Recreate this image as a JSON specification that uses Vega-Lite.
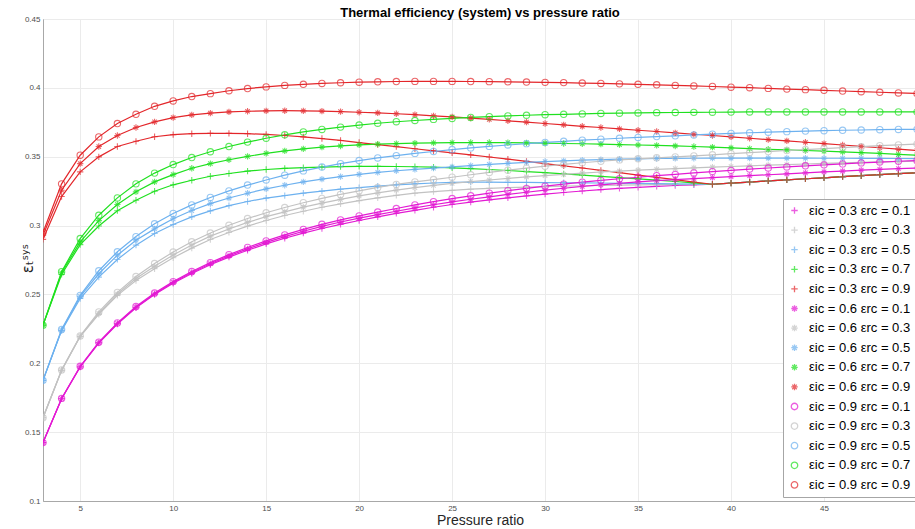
{
"$schema": "https://vega.github.io/schema/vega-lite/v6.json",
"autosize": "none",
"padding": {"left": 43, "top": 19, "right": 0, "bottom": 28},
"width": 874,
"height": 482,
"background": "white",
"title": {"text": "Thermal efficiency (system) vs pressure ratio", "font": "Liberation Sans", "fontSize": 13, "fontWeight": "bold", "color": "#000000", "anchor": "middle", "offset": -5},
"data": {"values": [
{"p":3,"i3r1":0.1424,"i3r3":0.1605,"i3r5":0.1876,"i3r7":0.2277,"i3r9":0.2900,"i6r1":0.1424,"i6r3":0.1605,"i6r5":0.1876,"i6r7":0.2277,"i6r9":0.2930,"i9r1":0.1424,"i9r3":0.1605,"i9r5":0.1876,"i9r7":0.2277,"i9r9":0.2950},
{"p":4,"i3r1":0.1742,"i3r3":0.1948,"i3r5":0.2237,"i3r7":0.2645,"i3r9":0.3211,"i6r1":0.1743,"i6r3":0.1950,"i6r5":0.2241,"i6r7":0.2657,"i6r9":0.3257,"i9r1":0.1745,"i9r3":0.1952,"i9r5":0.2245,"i9r7":0.2665,"i9r9":0.3303},
{"p":5,"i3r1":0.1973,"i3r3":0.2195,"i3r5":0.2470,"i3r7":0.2862,"i3r9":0.3390,"i6r1":0.1975,"i6r3":0.2196,"i6r5":0.2485,"i6r7":0.2882,"i6r9":0.3450,"i9r1":0.1978,"i9r3":0.2199,"i9r5":0.2493,"i9r7":0.2906,"i9r9":0.3511},
{"p":6,"i3r1":0.2147,"i3r3":0.2355,"i3r5":0.2626,"i3r7":0.2997,"i3r9":0.3499,"i6r1":0.2150,"i6r3":0.2363,"i6r5":0.2650,"i6r7":0.3036,"i6r9":0.3574,"i9r1":0.2153,"i9r3":0.2373,"i9r5":0.2672,"i9r7":0.3075,"i9r9":0.3644},
{"p":7,"i3r1":0.2285,"i3r3":0.2493,"i3r5":0.2754,"i3r7":0.3108,"i3r9":0.3574,"i6r1":0.2289,"i6r3":0.2503,"i6r5":0.2785,"i6r7":0.3153,"i6r9":0.3654,"i9r1":0.2293,"i9r3":0.2515,"i9r5":0.2810,"i9r7":0.3201,"i9r9":0.3741},
{"p":8,"i3r1":0.2403,"i3r3":0.2601,"i3r5":0.2858,"i3r7":0.3184,"i3r9":0.3612,"i6r1":0.2407,"i6r3":0.2615,"i6r5":0.2894,"i6r7":0.3245,"i6r9":0.3712,"i9r1":0.2412,"i9r3":0.2630,"i9r5":0.2920,"i9r7":0.3303,"i9r9":0.3808},
{"p":9,"i3r1":0.2499,"i3r3":0.2686,"i3r5":0.2942,"i3r7":0.3249,"i3r9":0.3645,"i6r1":0.2504,"i6r3":0.2704,"i6r5":0.2976,"i6r7":0.3317,"i6r9":0.3753,"i9r1":0.2510,"i9r3":0.2724,"i9r5":0.3013,"i9r7":0.3381,"i9r9":0.3866},
{"p":10,"i3r1":0.2581,"i3r3":0.2766,"i3r5":0.3008,"i3r7":0.3296,"i3r9":0.3660,"i6r1":0.2587,"i6r3":0.2787,"i6r5":0.3049,"i6r7":0.3370,"i6r9":0.3784,"i9r1":0.2593,"i9r3":0.2808,"i9r5":0.3088,"i9r7":0.3443,"i9r9":0.3905},
{"p":11,"i3r1":0.2652,"i3r3":0.2836,"i3r5":0.3063,"i3r7":0.3329,"i3r9":0.3667,"i6r1":0.2659,"i6r3":0.2859,"i6r5":0.3109,"i6r7":0.3416,"i6r9":0.3804,"i9r1":0.2666,"i9r3":0.2882,"i9r5":0.3150,"i9r7":0.3494,"i9r9":0.3937},
{"p":12,"i3r1":0.2715,"i3r3":0.2899,"i3r5":0.3107,"i3r7":0.3358,"i3r9":0.3670,"i6r1":0.2723,"i6r3":0.2923,"i6r5":0.3159,"i6r7":0.3450,"i6r9":0.3817,"i9r1":0.2731,"i9r3":0.2946,"i9r5":0.3204,"i9r7":0.3536,"i9r9":0.3958},
{"p":13,"i3r1":0.2771,"i3r3":0.2950,"i3r5":0.3145,"i3r7":0.3378,"i3r9":0.3670,"i6r1":0.2780,"i6r3":0.2975,"i6r5":0.3200,"i6r7":0.3478,"i6r9":0.3825,"i9r1":0.2789,"i9r3":0.3002,"i9r5":0.3252,"i9r7":0.3574,"i9r9":0.3979},
{"p":14,"i3r1":0.2821,"i3r3":0.2996,"i3r5":0.3175,"i3r7":0.3395,"i3r9":0.3667,"i6r1":0.2831,"i6r3":0.3023,"i6r5":0.3235,"i6r7":0.3503,"i6r9":0.3830,"i9r1":0.2841,"i9r3":0.3051,"i9r5":0.3294,"i9r7":0.3606,"i9r9":0.3995},
{"p":15,"i3r1":0.2867,"i3r3":0.3037,"i3r5":0.3199,"i3r7":0.3407,"i3r9":0.3662,"i6r1":0.2878,"i6r3":0.3065,"i6r5":0.3266,"i6r7":0.3524,"i6r9":0.3833,"i9r1":0.2889,"i9r3":0.3093,"i9r5":0.3331,"i9r7":0.3634,"i9r9":0.4007},
{"p":16,"i3r1":0.2908,"i3r3":0.3073,"i3r5":0.3218,"i3r7":0.3415,"i3r9":0.3654,"i6r1":0.2920,"i6r3":0.3100,"i6r5":0.3293,"i6r7":0.3542,"i6r9":0.3834,"i9r1":0.2932,"i9r3":0.3131,"i9r5":0.3366,"i9r7":0.3659,"i9r9":0.4018},
{"p":17,"i3r1":0.2945,"i3r3":0.3104,"i3r5":0.3235,"i3r7":0.3421,"i3r9":0.3644,"i6r1":0.2959,"i6r3":0.3134,"i6r5":0.3317,"i6r7":0.3557,"i6r9":0.3833,"i9r1":0.2972,"i9r3":0.3166,"i9r5":0.3397,"i9r7":0.3680,"i9r9":0.4026},
{"p":18,"i3r1":0.2979,"i3r3":0.3133,"i3r5":0.3250,"i3r7":0.3425,"i3r9":0.3632,"i6r1":0.2994,"i6r3":0.3163,"i6r5":0.3337,"i6r7":0.3569,"i6r9":0.3831,"i9r1":0.3009,"i9r3":0.3197,"i9r5":0.3425,"i9r7":0.3698,"i9r9":0.4032},
{"p":19,"i3r1":0.3009,"i3r3":0.3158,"i3r5":0.3264,"i3r7":0.3428,"i3r9":0.3618,"i6r1":0.3026,"i6r3":0.3190,"i6r5":0.3356,"i6r7":0.3578,"i6r9":0.3828,"i9r1":0.3041,"i9r3":0.3226,"i9r5":0.3450,"i9r7":0.3715,"i9r9":0.4037},
{"p":20,"i3r1":0.3037,"i3r3":0.3181,"i3r5":0.3276,"i3r7":0.3430,"i3r9":0.3603,"i6r1":0.3054,"i6r3":0.3215,"i6r5":0.3372,"i6r7":0.3586,"i6r9":0.3823,"i9r1":0.3070,"i9r3":0.3252,"i9r5":0.3472,"i9r7":0.3730,"i9r9":0.4041},
{"p":21,"i3r1":0.3063,"i3r3":0.3201,"i3r5":0.3287,"i3r7":0.3430,"i3r9":0.3588,"i6r1":0.3080,"i6r3":0.3237,"i6r5":0.3386,"i6r7":0.3591,"i6r9":0.3818,"i9r1":0.3098,"i9r3":0.3277,"i9r5":0.3491,"i9r7":0.3743,"i9r9":0.4044},
{"p":22,"i3r1":0.3088,"i3r3":0.3219,"i3r5":0.3296,"i3r7":0.3429,"i3r9":0.3573,"i6r1":0.3104,"i6r3":0.3258,"i6r5":0.3398,"i6r7":0.3595,"i6r9":0.3812,"i9r1":0.3124,"i9r3":0.3299,"i9r5":0.3508,"i9r7":0.3754,"i9r9":0.4046},
{"p":23,"i3r1":0.3111,"i3r3":0.3235,"i3r5":0.3303,"i3r7":0.3427,"i3r9":0.3558,"i6r1":0.3128,"i6r3":0.3276,"i6r5":0.3408,"i6r7":0.3598,"i6r9":0.3805,"i9r1":0.3150,"i9r3":0.3317,"i9r5":0.3524,"i9r7":0.3763,"i9r9":0.4047},
{"p":24,"i3r1":0.3133,"i3r3":0.3246,"i3r5":0.3309,"i3r7":0.3424,"i3r9":0.3543,"i6r1":0.3151,"i6r3":0.3292,"i6r5":0.3417,"i6r7":0.3600,"i6r9":0.3797,"i9r1":0.3174,"i9r3":0.3334,"i9r5":0.3538,"i9r7":0.3771,"i9r9":0.4047},
{"p":25,"i3r1":0.3153,"i3r3":0.3256,"i3r5":0.3313,"i3r7":0.3419,"i3r9":0.3528,"i6r1":0.3172,"i6r3":0.3306,"i6r5":0.3426,"i6r7":0.3602,"i6r9":0.3789,"i9r1":0.3196,"i9r3":0.3351,"i9r5":0.3552,"i9r7":0.3778,"i9r9":0.4047},
{"p":26,"i3r1":0.3170,"i3r3":0.3264,"i3r5":0.3315,"i3r7":0.3413,"i3r9":0.3513,"i6r1":0.3191,"i6r3":0.3319,"i6r5":0.3435,"i6r7":0.3603,"i6r9":0.3780,"i9r1":0.3216,"i9r3":0.3369,"i9r5":0.3564,"i9r7":0.3785,"i9r9":0.4046},
{"p":27,"i3r1":0.3186,"i3r3":0.3270,"i3r5":0.3315,"i3r7":0.3407,"i3r9":0.3498,"i6r1":0.3209,"i6r3":0.3331,"i6r5":0.3444,"i6r7":0.3603,"i6r9":0.3771,"i9r1":0.3235,"i9r3":0.3386,"i9r5":0.3575,"i9r7":0.3791,"i9r9":0.4045},
{"p":28,"i3r1":0.3201,"i3r3":0.3275,"i3r5":0.3314,"i3r7":0.3400,"i3r9":0.3482,"i6r1":0.3226,"i6r3":0.3342,"i6r5":0.3452,"i6r7":0.3602,"i6r9":0.3761,"i9r1":0.3253,"i9r3":0.3402,"i9r5":0.3585,"i9r7":0.3796,"i9r9":0.4044},
{"p":29,"i3r1":0.3215,"i3r3":0.3279,"i3r5":0.3313,"i3r7":0.3392,"i3r9":0.3466,"i6r1":0.3242,"i6r3":0.3353,"i6r5":0.3459,"i6r7":0.3600,"i6r9":0.3751,"i9r1":0.3270,"i9r3":0.3417,"i9r5":0.3595,"i9r7":0.3801,"i9r9":0.4042},
{"p":30,"i3r1":0.3228,"i3r3":0.3283,"i3r5":0.3312,"i3r7":0.3384,"i3r9":0.3450,"i6r1":0.3257,"i6r3":0.3363,"i6r5":0.3465,"i6r7":0.3598,"i6r9":0.3741,"i9r1":0.3286,"i9r3":0.3431,"i9r5":0.3604,"i9r7":0.3805,"i9r9":0.4040},
{"p":31,"i3r1":0.3240,"i3r3":0.3286,"i3r5":0.3311,"i3r7":0.3375,"i3r9":0.3434,"i6r1":0.3271,"i6r3":0.3372,"i6r5":0.3470,"i6r7":0.3596,"i6r9":0.3731,"i9r1":0.3301,"i9r3":0.3444,"i9r5":0.3612,"i9r7":0.3808,"i9r9":0.4038},
{"p":32,"i3r1":0.3251,"i3r3":0.3289,"i3r5":0.3310,"i3r7":0.3366,"i3r9":0.3418,"i6r1":0.3284,"i6r3":0.3381,"i6r5":0.3475,"i6r7":0.3594,"i6r9":0.3721,"i9r1":0.3315,"i9r3":0.3456,"i9r5":0.3620,"i9r7":0.3811,"i9r9":0.4035},
{"p":33,"i3r1":0.3261,"i3r3":0.3291,"i3r5":0.3309,"i3r7":0.3357,"i3r9":0.3401,"i6r1":0.3296,"i6r3":0.3389,"i6r5":0.3479,"i6r7":0.3591,"i6r9":0.3712,"i9r1":0.3328,"i9r3":0.3467,"i9r5":0.3627,"i9r7":0.3814,"i9r9":0.4032},
{"p":34,"i3r1":0.3270,"i3r3":0.3293,"i3r5":0.3307,"i3r7":0.3348,"i3r9":0.3384,"i6r1":0.3307,"i6r3":0.3396,"i6r5":0.3482,"i6r7":0.3588,"i6r9":0.3702,"i9r1":0.3340,"i9r3":0.3477,"i9r5":0.3634,"i9r7":0.3816,"i9r9":0.4029},
{"p":35,"i3r1":0.3278,"i3r3":0.3295,"i3r5":0.3306,"i3r7":0.3339,"i3r9":0.3367,"i6r1":0.3317,"i6r3":0.3402,"i6r5":0.3485,"i6r7":0.3585,"i6r9":0.3692,"i9r1":0.3351,"i9r3":0.3485,"i9r5":0.3640,"i9r7":0.3818,"i9r9":0.4026},
{"p":36,"i3r1":0.3285,"i3r3":0.3297,"i3r5":0.3304,"i3r7":0.3330,"i3r9":0.3350,"i6r1":0.3326,"i6r3":0.3408,"i6r5":0.3487,"i6r7":0.3582,"i6r9":0.3683,"i9r1":0.3362,"i9r3":0.3492,"i9r5":0.3646,"i9r7":0.3820,"i9r9":0.4022},
{"p":37,"i3r1":0.3291,"i3r3":0.3298,"i3r5":0.3303,"i3r7":0.3320,"i3r9":0.3333,"i6r1":0.3334,"i6r3":0.3413,"i6r5":0.3488,"i6r7":0.3578,"i6r9":0.3673,"i9r1":0.3372,"i9r3":0.3499,"i9r5":0.3652,"i9r7":0.3821,"i9r9":0.4018},
{"p":38,"i3r1":0.3296,"i3r3":0.3299,"i3r5":0.3301,"i3r7":0.3310,"i3r9":0.3316,"i6r1":0.3341,"i6r3":0.3419,"i6r5":0.3489,"i6r7":0.3574,"i6r9":0.3663,"i9r1":0.3382,"i9r3":0.3506,"i9r5":0.3658,"i9r7":0.3822,"i9r9":0.4014},
{"p":39,"i3r1":0.3300,"i3r3":0.3300,"i3r5":0.3300,"i3r7":0.3300,"i3r9":0.3300,"i6r1":0.3348,"i6r3":0.3424,"i6r5":0.3490,"i6r7":0.3569,"i6r9":0.3654,"i9r1":0.3392,"i9r3":0.3514,"i9r5":0.3664,"i9r7":0.3823,"i9r9":0.4010},
{"p":40,"i3r1":0.3308,"i3r3":0.3308,"i3r5":0.3308,"i3r7":0.3308,"i3r9":0.3308,"i6r1":0.3355,"i6r3":0.3429,"i6r5":0.3490,"i6r7":0.3564,"i6r9":0.3644,"i9r1":0.3401,"i9r3":0.3522,"i9r5":0.3669,"i9r7":0.3824,"i9r9":0.4005},
{"p":41,"i3r1":0.3316,"i3r3":0.3316,"i3r5":0.3316,"i3r7":0.3316,"i3r9":0.3316,"i6r1":0.3362,"i6r3":0.3434,"i6r5":0.3490,"i6r7":0.3559,"i6r9":0.3634,"i9r1":0.3410,"i9r3":0.3530,"i9r5":0.3674,"i9r7":0.3825,"i9r9":0.4001},
{"p":42,"i3r1":0.3324,"i3r3":0.3324,"i3r5":0.3324,"i3r7":0.3324,"i3r9":0.3324,"i6r1":0.3369,"i6r3":0.3439,"i6r5":0.3490,"i6r7":0.3554,"i6r9":0.3624,"i9r1":0.3418,"i9r3":0.3537,"i9r5":0.3678,"i9r7":0.3825,"i9r9":0.3996},
{"p":43,"i3r1":0.3332,"i3r3":0.3332,"i3r5":0.3332,"i3r7":0.3332,"i3r9":0.3332,"i6r1":0.3376,"i6r3":0.3443,"i6r5":0.3490,"i6r7":0.3549,"i6r9":0.3615,"i9r1":0.3426,"i9r3":0.3545,"i9r5":0.3682,"i9r7":0.3825,"i9r9":0.3991},
{"p":44,"i3r1":0.3340,"i3r3":0.3340,"i3r5":0.3340,"i3r7":0.3340,"i3r9":0.3340,"i6r1":0.3383,"i6r3":0.3447,"i6r5":0.3490,"i6r7":0.3545,"i6r9":0.3605,"i9r1":0.3434,"i9r3":0.3552,"i9r5":0.3686,"i9r7":0.3825,"i9r9":0.3987},
{"p":45,"i3r1":0.3347,"i3r3":0.3347,"i3r5":0.3347,"i3r7":0.3347,"i3r9":0.3347,"i6r1":0.3390,"i6r3":0.3451,"i6r5":0.3489,"i6r7":0.3540,"i6r9":0.3595,"i9r1":0.3441,"i9r3":0.3559,"i9r5":0.3689,"i9r7":0.3825,"i9r9":0.3982},
{"p":46,"i3r1":0.3355,"i3r3":0.3355,"i3r5":0.3355,"i3r7":0.3355,"i3r9":0.3355,"i6r1":0.3396,"i6r3":0.3455,"i6r5":0.3489,"i6r7":0.3535,"i6r9":0.3585,"i9r1":0.3448,"i9r3":0.3566,"i9r5":0.3692,"i9r7":0.3825,"i9r9":0.3977},
{"p":47,"i3r1":0.3362,"i3r3":0.3362,"i3r5":0.3362,"i3r7":0.3362,"i3r9":0.3362,"i6r1":0.3402,"i6r3":0.3459,"i6r5":0.3488,"i6r7":0.3530,"i6r9":0.3575,"i9r1":0.3455,"i9r3":0.3573,"i9r5":0.3694,"i9r7":0.3825,"i9r9":0.3972},
{"p":48,"i3r1":0.3370,"i3r3":0.3370,"i3r5":0.3370,"i3r7":0.3370,"i3r9":0.3370,"i6r1":0.3408,"i6r3":0.3462,"i6r5":0.3488,"i6r7":0.3524,"i6r9":0.3565,"i9r1":0.3461,"i9r3":0.3580,"i9r5":0.3696,"i9r7":0.3825,"i9r9":0.3968},
{"p":49,"i3r1":0.3377,"i3r3":0.3377,"i3r5":0.3377,"i3r7":0.3377,"i3r9":0.3377,"i6r1":0.3413,"i6r3":0.3465,"i6r5":0.3487,"i6r7":0.3517,"i6r9":0.3555,"i9r1":0.3467,"i9r3":0.3586,"i9r5":0.3698,"i9r7":0.3825,"i9r9":0.3963},
{"p":50,"i3r1":0.3384,"i3r3":0.3384,"i3r5":0.3384,"i3r7":0.3384,"i3r9":0.3384,"i6r1":0.3418,"i6r3":0.3468,"i6r5":0.3486,"i6r7":0.3511,"i6r9":0.3545,"i9r1":0.3472,"i9r3":0.3592,"i9r5":0.3699,"i9r7":0.3825,"i9r9":0.3959}
]},
"transform": [{"fold": ["i3r1","i3r3","i3r5","i3r7","i3r9","i6r1","i6r3","i6r5","i6r7","i6r9","i9r1","i9r3","i9r5","i9r7","i9r9"], "as": ["series","v"]}],
"encoding": {
  "x": {"field": "p", "type": "quantitative", "scale": {"domain": [3, 50], "nice": false, "zero": false},
        "axis": {"title": "Pressure ratio", "values": [5,10,15,20,25,30,35,40,45], "titleFontSize": 14, "titleFontWeight": "normal", "titleColor": "#262626", "titlePadding": 1, "labelPadding": 3}},
  "y": {"field": "v", "type": "quantitative", "scale": {"domain": [0.1, 0.45], "nice": false, "zero": false},
        "axis": {"title": "εₜˢʸˢ", "values": [0.1,0.15,0.2,0.25,0.3,0.35,0.4,0.45], "format": "~g", "titleFont": "DejaVu Sans", "titleFontSize": 15, "titleFontWeight": "normal", "titleColor": "#262626", "titleAngle": -90, "titleX": -16, "titleY": 239, "titleAlign": "center", "titleBaseline": "middle", "labelPadding": 3}},
  "color": {"field": "series", "type": "nominal",
        "scale": {"domain": ["i3r1","i3r3","i3r5","i3r7","i3r9","i6r1","i6r3","i6r5","i6r7","i6r9","i9r1","i9r3","i9r5","i9r7","i9r9"],
                  "range": ["#E31AD3","#C2C2C2","#6DB1EF","#1FE01F","#E3262A","#E31AD3","#C2C2C2","#6DB1EF","#1FE01F","#E3262A","#E31AD3","#C2C2C2","#6DB1EF","#1FE01F","#E3262A"]},
        "legend": {"labelExpr": "'εic = 0.' + substring(datum.label,1,2) + ' εrc = 0.' + substring(datum.label,3,4)"}}
},
"layer": [
  {"mark": {"type": "line", "strokeWidth": 1.2, "clip": true}},
  {"mark": {"type": "point", "filled": false, "strokeWidth": 1.1, "size": 40, "clip": true},
   "encoding": {"shape": {"field": "series", "type": "nominal",
        "scale": {"domain": ["i3r1","i3r3","i3r5","i3r7","i3r9","i6r1","i6r3","i6r5","i6r7","i6r9","i9r1","i9r3","i9r5","i9r7","i9r9"],
                  "range": ["M-1,0H1M0,-1V1","M-1,0H1M0,-1V1","M-1,0H1M0,-1V1","M-1,0H1M0,-1V1","M-1,0H1M0,-1V1",
                            "M-1,0H1M0,-1V1M-0.7,-0.7L0.7,0.7M-0.7,0.7L0.7,-0.7","M-1,0H1M0,-1V1M-0.7,-0.7L0.7,0.7M-0.7,0.7L0.7,-0.7","M-1,0H1M0,-1V1M-0.7,-0.7L0.7,0.7M-0.7,0.7L0.7,-0.7","M-1,0H1M0,-1V1M-0.7,-0.7L0.7,0.7M-0.7,0.7L0.7,-0.7","M-1,0H1M0,-1V1M-0.7,-0.7L0.7,0.7M-0.7,0.7L0.7,-0.7",
                            "circle","circle","circle","circle","circle"]},
        "legend": {"labelExpr": "'εic = 0.' + substring(datum.label,1,2) + ' εrc = 0.' + substring(datum.label,3,4)"}}}}
],
"config": {
  "font": "Liberation Sans",
  "view": {"stroke": "#b3b3b3", "strokeWidth": 1},
  "axis": {"gridColor": "#ebebeb", "gridWidth": 1, "domainColor": "#a8a8a8", "labelColor": "#4d4d4d", "labelFontSize": 8, "labelFont": "Liberation Sans", "ticks": false, "titleFont": "Liberation Sans"},
  "legend": {"orient": "none", "legendX": 740, "legendY": 180, "padding": 5, "strokeColor": "#a6a6a6", "fillColor": "white", "labelFont": "Liberation Sans", "labelFontSize": 13, "labelColor": "#000000", "labelLimit": 0, "rowPadding": 5.6, "symbolSize": 42, "symbolStrokeWidth": 1.3, "labelOffset": 8, "title": null}
}
}
